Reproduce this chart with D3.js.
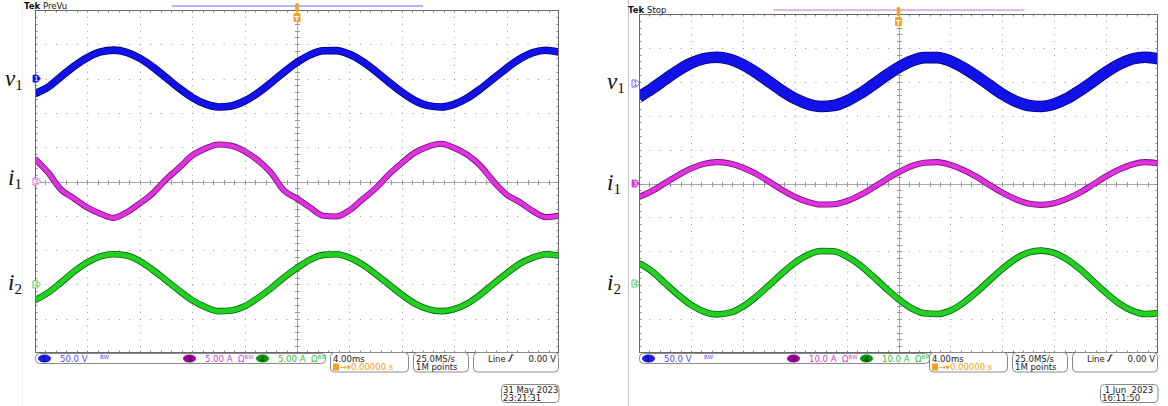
<!DOCTYPE html>
<html>
<head>
<meta charset="utf-8">
<script src="https://cdn.jsdelivr.net/npm/d3@7"></script>
<style>
  html, body { margin: 0; padding: 0; background: #fff; }
  svg { display: block; font-family: "DejaVu Sans", sans-serif; }
</style>
</head>
<body>
<svg id="chart" width="1168" height="406"></svg>
<script>
// sample times (ms), 4 ms/div, trigger at 0
const timeMs = [-20,-19,-18,-17,-16,-15,-14,-13,-12,-11,-10,-9,-8,-7,-6,-5,-4,-3,-2,-1,0,
  1,2,3,4,5,6,7,8,9,10,11,12,13,14,15,16,17,18,19,20];

// left capture (31 May 2023) - v1 in V, i1 / i2 in A
const leftV1 = [-22,-12.4,3.1,18.2,30.7,38.9,41.5,38.3,29.6,16.8,1.6,-13.9,-27.4,-36.9,-41.3,-39.8,-32.7,-21.0,-6.3,9.3,23.6,
  34.6,40.6,40.8,35.4,24.9,10.8,-4.9,-19.7,-32.0,-39.4,-41.4,-37.6,-28.4,-15.1,0,15.2,28.5,37.8,41.4,38.5];
const leftI1 = [3.3,1.3,-1.2,-2.5,-3.8,-4.7,-5.3,-4.5,-3.2,-1.7,0.3,2.0,3.8,4.8,5.4,5.2,4.4,3.1,1.3,-1.3,-2.5,
  -3.8,-5.0,-5.1,-4.2,-2.6,-1.0,1.0,2.7,4.2,5.1,5.5,4.9,3.9,2.3,0.0,-1.9,-3.0,-4.3,-5.2,-5.0];
const leftI2 = [-2.3,-1.2,0.3,1.9,3.2,4.1,4.4,4.2,3.4,2.1,0.6,-0.9,-2.3,-3.3,-3.9,-3.8,-3.2,-2.0,-0.6,1.0,2.4,
  3.6,4.3,4.4,3.9,2.9,1.5,0.0,-1.5,-2.8,-3.6,-3.9,-3.6,-2.8,-1.5,0.1,1.6,3.0,3.9,4.4,4.2];

// right capture (1 Jun 2023)
const rightV1 = [-20.0,-7.8,5.9,19.0,29.8,36.7,38.8,35.7,27.9,16.5,3.1,-10.4,-22.1,-30.3,-33.9,-32.4,-26.0,-15.4,-2.4,11.2,23.7,
  33.2,38.2,38.2,33.0,23.3,11.1,-2.4,-15.7,-26.1,-32.4,-33.9,-30.2,-22.1,-10.1,3.1,16.7,28.2,36.1,38.8,36.4];
const rightI1 = [-4.0,-2.2,0.1,2.4,4.4,5.8,6.3,5.9,4.7,2.9,0.6,-1.8,-3.9,-5.4,-6.2,-6.1,-5.2,-3.5,-1.3,1.1,3.3,
  5.1,6.1,6.3,5.5,4.0,2.0,-0.4,-2.7,-4.6,-5.9,-6.3,-5.8,-4.5,-2.6,-0.3,2.1,4.1,5.6,6.3,6.0];
const rightI2 = [6.0,3.6,0.1,-3.3,-6.3,-8.3,-9.1,-8.6,-6.8,-4.0,-0.6,2.9,6.1,8.4,9.6,9.5,8.0,5.5,2.2,-1.3,-4.6,
  -7.3,-8.8,-9.0,-8.0,-5.7,-2.6,0.9,4.3,7.2,9.1,9.7,9.0,7.1,4.2,0.7,-2.8,-5.9,-8.0,-9.0,-8.7];

// per-div settings and readouts
const leftScales = [50, 5, 5];
const rightScales = [50, 10, 10];
const leftReadouts = ['50.0 V', '5.00 A', '5.00 A'];
const rightReadouts = ['50.0 V', '10.0 A', '10.0 A'];
const traceNames = [['v', '1'], ['i', '1'], ['i', '2']];
const channelNums = ['1', '3', '4'];
const leftStamp = ['31 May 2023', '23:21:31'];
const rightStamp = [' 1 Jun  2023', '16:11:50'];

const svg = d3.select('#chart');

// #region colours
const traceColors = [
  { inner: '#1212e8', outer: '#000078', label: '#4a4aff', badge: '#1a1aff' },
  { inner: '#e030e0', outer: '#6e146e', label: '#d040d0', badge: '#a000a0' },
  { inner: '#22d022', outer: '#0b600b', label: '#30c030', badge: '#009a00' },
];
const orange = '#f5a020';
// #endregion

function drawPanel(cfg) {
  const { x0, x1, y0, y1, mode, series, scales, readouts, stamp, offsets, widths, markerFilled, barColor, labelPos } = cfg;
  const g = svg.append('g');
  const x = d3.scaleLinear().domain([-20, 20]).range([x0, x1]);
  const yDiv = d3.scaleLinear().domain([-5, 5]).range([y1, y0]);
  const xStep = (x1 - x0) / 50;
  const yStep = (y1 - y0) / 50;
  const cx = x(0), cy = yDiv(0);

  // screen edge line
  g.append('line').attr('x1', cfg.edgeX).attr('x2', cfg.edgeX).attr('y1', 0).attr('y2', 406)
    .attr('stroke', cfg.edgeColor).attr('stroke-width', 1);

  // #region graticule
  const grid = g.append('g');
  d3.range(1, 10).filter(i => i !== 5).forEach(i => {
    const xx = Math.round(x0 + i * (x1 - x0) / 10) + 0.5;
    grid.append('line').attr('x1', xx).attr('x2', xx).attr('y1', y0).attr('y2', y1)
      .attr('stroke', '#9a9a9a').attr('stroke-dasharray', `1 ${yStep - 1}`);
    const yy = Math.round(y0 + i * (y1 - y0) / 10) + 0.5;
    grid.append('line').attr('x1', x0).attr('x2', x1).attr('y1', yy).attr('y2', yy)
      .attr('stroke', '#9a9a9a').attr('stroke-dasharray', `1 ${xStep - 1}`);
  });
  const cxr = Math.round(cx) + 0.5, cyr = Math.round(cy) + 0.5;
  grid.append('line').attr('x1', cxr).attr('x2', cxr).attr('y1', y0).attr('y2', y1).attr('stroke', '#a8a8a8');
  grid.append('line').attr('x1', x0).attr('x2', x1).attr('y1', cyr).attr('y2', cyr).attr('stroke', '#a8a8a8');
  d3.range(1, 50).forEach(k => {
    const tx = Math.round(x0 + k * xStep) + 0.5;
    const ty = Math.round(y0 + k * yStep) + 0.5;
    grid.append('line').attr('x1', tx).attr('x2', tx).attr('y1', cyr - 2.5).attr('y2', cyr + 2.5).attr('stroke', '#999');
    grid.append('line').attr('x1', cxr - 2.5).attr('x2', cxr + 2.5).attr('y1', ty).attr('y2', ty).attr('stroke', '#999');
    grid.append('line').attr('x1', tx).attr('x2', tx).attr('y1', y0).attr('y2', y0 + 2.5).attr('stroke', '#888');
    grid.append('line').attr('x1', tx).attr('x2', tx).attr('y1', y1 - 2.5).attr('y2', y1).attr('stroke', '#888');
    grid.append('line').attr('x1', x0).attr('x2', x0 + 2.5).attr('y1', ty).attr('y2', ty).attr('stroke', '#888');
    grid.append('line').attr('x1', x1 - 2.5).attr('x2', x1).attr('y1', ty).attr('y2', ty).attr('stroke', '#888');
  });
  grid.append('rect').attr('x', x0 + 0.5).attr('y', y0 + 0.5).attr('width', x1 - x0 - 1).attr('height', y1 - y0 - 1)
    .attr('fill', 'none').attr('stroke', '#6a6a6a');
  // #endregion

  // #region traces
  const clipId = 'clip' + Math.round(x0);
  g.append('clipPath').attr('id', clipId).append('rect')
    .attr('x', x0 + 1).attr('y', y0 + 1).attr('width', x1 - x0 - 2).attr('height', y1 - y0 - 2);
  const traces = g.append('g').attr('clip-path', `url(#${clipId})`);
  series.forEach((vals, k) => {
    const line = d3.line()
      .x((d, i) => x(timeMs[i]))
      .y(d => yDiv(d / scales[k] + offsets[k]))
      .curve(d3.curveMonotoneX);
    traces.append('path').attr('d', line(vals)).attr('fill', 'none')
      .attr('stroke', traceColors[k].outer).attr('stroke-width', widths[k] + 1.6).attr('stroke-linejoin', 'round');
    traces.append('path').attr('d', line(vals)).attr('fill', 'none')
      .attr('stroke', traceColors[k].inner).attr('stroke-width', widths[k]).attr('stroke-linejoin', 'round');
  });
  // #endregion

  // #region channel markers and math labels
  offsets.forEach((off, k) => {
    const my = yDiv(off);
    const mx = x0 - 2 + (cfg.markerShift || 0);
    const c = traceColors[k];
    const filled = markerFilled[k];
    g.append('path')
      .attr('d', `M${mx},${my - 3.5} h4.5 l3,3.5 l-3,3.5 h-4.5 z`)
      .attr('fill', filled ? c.inner : '#fff').attr('stroke', filled ? c.inner : c.label).attr('stroke-width', 0.8);
    g.append('text').attr('x', mx + 3.2).attr('y', my + 2.6).attr('text-anchor', 'middle')
      .attr('font-size', 7).attr('fill', filled ? '#fff' : c.label).text(channelNums[k]);

    const lab = g.append('text').attr('x', labelPos[k][0]).attr('y', labelPos[k][1])
      .attr('font-family', '"Liberation Serif", "DejaVu Serif", serif').attr('fill', '#111');
    lab.append('tspan').attr('font-style', 'italic').attr('font-size', 23).text(traceNames[k][0]);
    lab.append('tspan').attr('font-size', 15).attr('dy', 3.5).text(traceNames[k][1]);
  });
  // #endregion

  // #region header
  g.append('text').attr('x', x0 - 11).attr('y', y0 - 1.5).attr('font-size', 8.5).attr('font-weight', 'bold')
    .attr('fill', '#111').text('Tek');
  g.append('text').attr('x', x0 + 8).attr('y', y0 - 1.5).attr('font-size', 8.5).attr('fill', '#111').text(mode);
  g.append('line').attr('x1', cx - 125).attr('x2', cx + 126).attr('y1', y0 - 4).attr('y2', y0 - 4)
    .attr('stroke', barColor).attr('stroke-width', 2);
  g.append('rect').attr('x', cx - 1.8).attr('y', y0 - 7).attr('width', 3.6).attr('height', 9).attr('rx', 1.5).attr('fill', orange);
  g.append('rect').attr('x', cx - 3.5).attr('y', y0 + 3).attr('width', 7).attr('height', 9).attr('rx', 1.5).attr('fill', orange);
  g.append('text').attr('x', cx).attr('y', y0 + 10.5).attr('text-anchor', 'middle').attr('font-size', 7)
    .attr('font-weight', 'bold').attr('fill', '#fff').text('T');
  // #endregion

  // #region status bar
  const sb = g.append('g').attr('font-size', 8.5);
  const by = y1;
  sb.append('rect').attr('x', x0 + 0.5).attr('y', by + 0.5).attr('width', 290).attr('height', 10).attr('rx', 4)
    .attr('fill', '#fff').attr('stroke', '#8a8a8a');
  const chX = [[3, 25], [148, 170], [221, 243]];
  chX.forEach((p, k) => {
    const c = traceColors[k];
    sb.append('ellipse').attr('cx', x0 + p[0] + 6.5).attr('cy', by + 5.5).attr('rx', 6.5).attr('ry', 4).attr('fill', c.badge);
    sb.append('text').attr('x', x0 + p[0] + 6.5).attr('y', by + 8.5).attr('text-anchor', 'middle').attr('font-size', 7.5)
      .attr('fill', '#111').text(channelNums[k]);
    sb.append('text').attr('x', x0 + p[1]).attr('y', by + 9).attr('fill', c.label).text(readouts[k]);
    sb.append('text').attr('x', x0 + p[1] + (k === 0 ? 40 : 33)).attr('y', by + 9).attr('fill', c.label)
      .text(k === 0 ? 'ᴮᵂ' : 'Ωᴮᵂ');
  });

  const boxes = [
    { l: 229, r: 151, lines: ['4.00ms', null] },
    { l: 146, r: 91, lines: ['25.0MS/s', '1M points'] },
    { l: 86, r: 1, lines: [null, null] },
  ];
  boxes.forEach(b => {
    sb.append('rect').attr('x', x1 - b.l + 0.5).attr('y', by - 0.5).attr('width', b.l - b.r).attr('height', 19.5)
      .attr('rx', 4).attr('fill', '#fff').attr('stroke', '#8a8a8a');
    if (b.lines[0]) sb.append('text').attr('x', x1 - b.l + 3).attr('y', by + 8.5).attr('fill', '#222').text(b.lines[0]);
    if (b.lines[1]) sb.append('text').attr('x', x1 - b.l + 3).attr('y', by + 17).attr('fill', '#222').text(b.lines[1]);
  });
  // trigger position line
  sb.append('rect').attr('x', x1 - 226).attr('y', by + 10.5).attr('width', 6).attr('height', 7).attr('fill', orange);
  sb.append('text').attr('x', x1 - 219.5).attr('y', by + 17).attr('fill', orange).text('→▾0.00000 s');
  // trigger readout
  sb.append('text').attr('x', x1 - 71).attr('y', by + 8.5).attr('fill', '#222').text('Line');
  sb.append('path').attr('d', `M${x1 - 51},${by + 8} h1.5 l2.5,-6 h1.5`).attr('fill', 'none').attr('stroke', '#222').attr('stroke-width', 1.2);
  sb.append('text').attr('x', x1 - 3).attr('y', by + 8.5).attr('text-anchor', 'end').attr('fill', '#222').text('0.00 V');
  // date stamp
  sb.append('rect').attr('x', x1 - 58 + 0.5).attr('y', by + 31.5).attr('width', 57.5).attr('height', 18)
    .attr('rx', 4).attr('fill', '#fff').attr('stroke', '#8a8a8a');
  sb.append('text').attr('x', x1 - 56).attr('y', by + 39.5).attr('fill', '#222').attr('xml:space', 'preserve').text(stamp[0]);
  sb.append('text').attr('x', x1 - 56).attr('y', by + 48).attr('fill', '#222').text(stamp[1]);
  // #endregion
}

drawPanel({
  x0: 35, x1: 559, y0: 10, y1: 353, mode: 'PreVu',
  series: [leftV1, leftI1, leftI2], scales: leftScales, readouts: leftReadouts, stamp: leftStamp,
  offsets: [3, 0, -3], widths: [6, 4.5, 5], markerFilled: [true, false, false],
  barColor: '#b4b4ff', edgeX: 22.5, edgeColor: '#efefef',
  labelPos: [[5, 86], [8, 185], [8, 290]],
});

drawPanel({
  x0: 639, x1: 1158, y0: 14, y1: 353, mode: 'Stop',
  series: [rightV1, rightI1, rightI2], scales: rightScales, readouts: rightReadouts, stamp: rightStamp,
  offsets: [2.95, 0, -2.95], widths: [10, 4.5, 5], markerFilled: [false, true, false],
  barColor: '#e8b4e8', edgeX: 628.5, edgeColor: '#c4c4c4', markerShift: -5,
  labelPos: [[607, 89], [607, 190], [607, 290]],
});
</script>
</body>
</html>
